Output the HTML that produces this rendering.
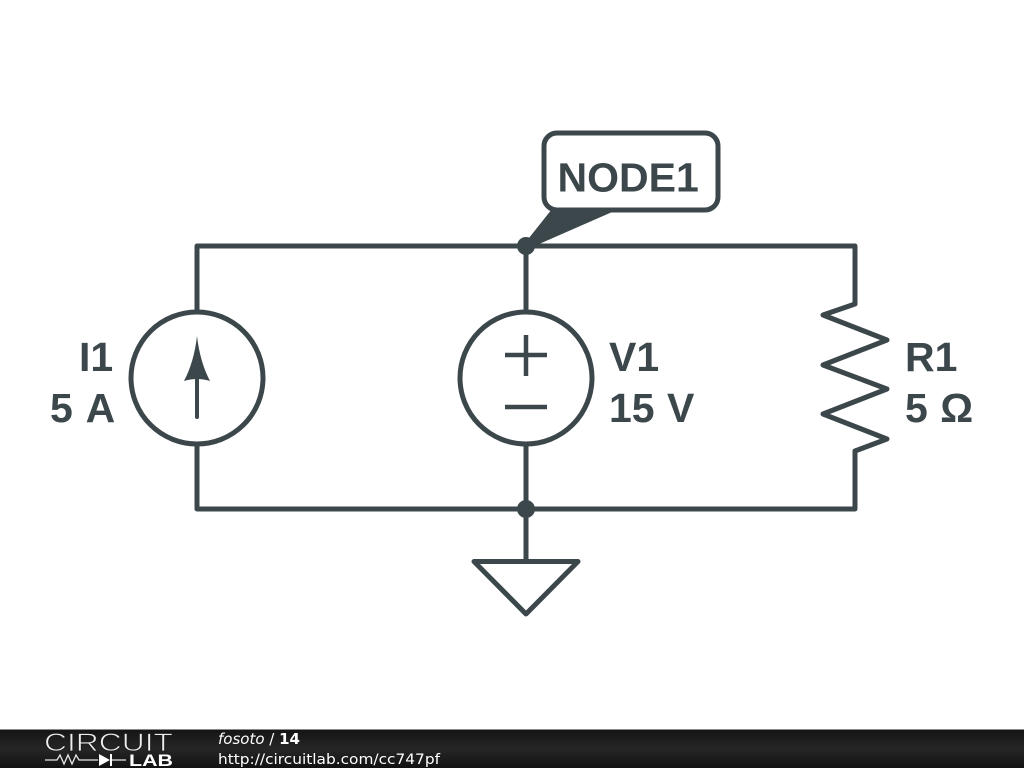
<!DOCTYPE html>
<html>
<head>
<meta charset="utf-8">
<style>
html,body{margin:0;padding:0;background:#fff;width:1024px;height:768px;overflow:hidden}
svg{display:block}
</style>
</head>
<body>
<svg width="1024" height="768" viewBox="0 0 1024 768" xmlns="http://www.w3.org/2000/svg">
<defs>
<linearGradient id="bar" x1="0" y1="0" x2="0" y2="1">
<stop offset="0" stop-color="#141414"/>
<stop offset="0.5" stop-color="#262626"/>
<stop offset="1" stop-color="#121212"/>
</linearGradient>
</defs>
<rect width="1024" height="768" fill="#fff"/>
<g fill="none" stroke="#3c474c" stroke-width="5" stroke-linejoin="round" stroke-linecap="round">
<path d="M197 311V246H855V304L823 315L887 340L823 365L887 389L823 414L887 439L855 451V509H197V444"/>
<path d="M526 246V311M526 444V561"/>
<circle cx="197" cy="378" r="66"/>
<circle cx="526" cy="378" r="66"/>
<path d="M526 335V376M505 355H547M505 407H547" stroke-width="4.500" stroke-linecap="butt"/>
<path d="M197 376V417" stroke-width="4"/>
<path d="M474 561.500H578L526 614Z"/>
<rect x="544" y="133" width="174" height="77" rx="13" ry="13"/>
</g>
<path d="M197 336Q200 362 210 381Q197 377 184 381Q194 362 197 336Z" fill="#3c474c"/>
<path d="M552 209L619 209L530 248L525 243Z" fill="#3c474c"/>
<circle cx="526" cy="246" r="9" fill="#3c474c"/>
<circle cx="526" cy="509" r="9" fill="#3c474c"/>
<g font-family="'Liberation Sans',sans-serif" font-weight="700" font-size="41" fill="#3c474c">
<text x="557.500" y="191.500">NODE1</text>
<text x="79" y="371">I1</text>
<text x="50" y="422">5 <tspan dx="3">A</tspan></text>
<text x="609" y="371">V1</text>
<text x="609" y="422">15 <tspan dx="1">V</tspan></text>
<text x="905" y="371">R1</text>
<text x="905" y="422">5 <tspan dx="1">Ω</tspan></text>
</g>
<rect x="0" y="729" width="1024" height="39" fill="url(#bar)"/>
<rect x="0" y="729" width="1024" height="1" fill="#8a8a8a"/>
<text x="44" y="751" font-family="'Liberation Sans',sans-serif" font-size="25" fill="#eeeeee" stroke="#1c1c1c" stroke-width="0.8" textLength="129" lengthAdjust="spacingAndGlyphs">CIRCUIT</text>
<path d="M45 760H57L60 755L64 764L68 755L72 764L76 755L79 760H98M126 760H111" fill="none" stroke="#e8e8e8" stroke-width="1.3"/>
<path d="M99 754L110 760L99 766Z" fill="#fff"/>
<rect x="110" y="754" width="2" height="12" fill="#fff"/>
<text x="129" y="766" font-family="'Liberation Sans',sans-serif" font-weight="700" font-size="17" fill="#fff" textLength="44" lengthAdjust="spacingAndGlyphs">LAB</text>
<text x="218" y="744" font-family="'DejaVu Sans',sans-serif" font-size="15" fill="#fff"><tspan font-style="italic">fosoto</tspan> / <tspan font-weight="700">14</tspan></text>
<text x="218" y="764" font-family="'DejaVu Sans',sans-serif" font-size="14.5" fill="#fff" textLength="222" lengthAdjust="spacingAndGlyphs">http://circuitlab.com/cc747pf</text>
</svg>
</body>
</html>
